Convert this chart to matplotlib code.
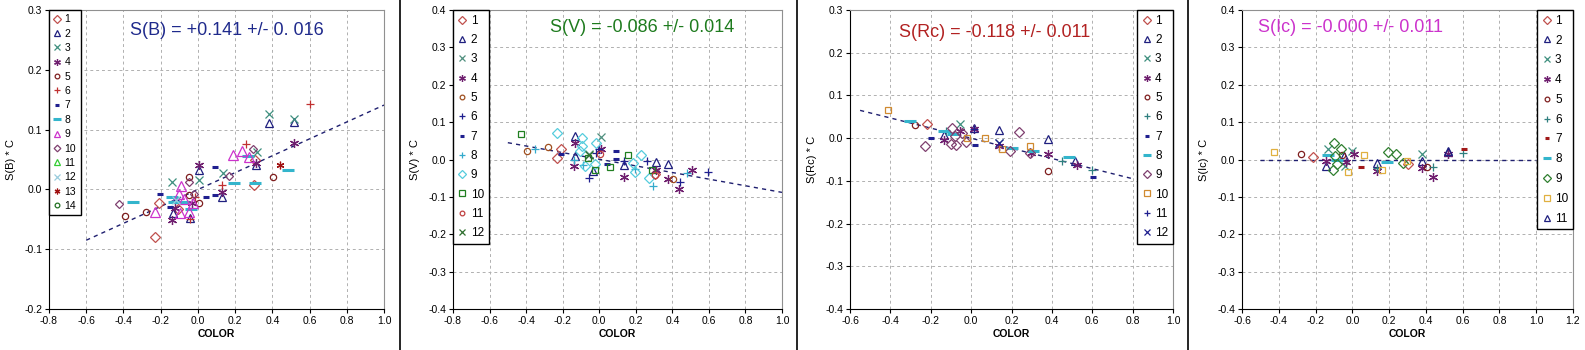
import matplotlib
matplotlib.use("Agg")
import matplotlib.pyplot as plt
from matplotlib.lines import Line2D

plt.rcParams['font.family'] = ['Liberation Sans', 'DejaVu Sans']

# ---- panel 1: S(B) ----
B_X = [
    [-0.21, -0.23, 0.305, 0.30, -0.107],
    [0.382, 0.515, 0.007, 0.13, -0.04, -0.134, 0.314],
    [0.382, 0.515, -0.139, 0.007, 0.135, 0.318],
    [0.518, 0.314, 0.007, 0.13, -0.139, -0.125, -0.032],
    [-0.393, -0.277, -0.05, -0.05, 0.007, 0.404],
    [0.60, 0.257, 0.13, -0.044, -0.018],
    [-0.205, 0.094, 0.045, 0.09, -0.15, -0.12],
    [-0.35, 0.194, 0.305, 0.484, -0.137, -0.08, -0.035, 0.27, -0.128],
    [-0.23, -0.092, -0.103, -0.076, -0.098, -0.05, -0.025, 0.189, 0.235, 0.273],
    [-0.424, -0.05, 0.167, 0.295, -0.02],
    [],
    [-0.12],
    [0.443],
    [],
]
B_Y = [
    [-0.023, -0.08, 0.049, 0.007, -0.032],
    [0.111, 0.113, 0.032, -0.012, -0.047, -0.04, 0.04],
    [0.126, 0.118, 0.013, 0.015, 0.028, 0.063],
    [0.077, 0.044, 0.041, -0.005, -0.051, -0.031, -0.023],
    [-0.045, -0.037, 0.021, -0.01, -0.022, 0.021],
    [0.142, 0.076, 0.007, -0.049, -0.012],
    [-0.007, 0.037, -0.012, -0.01, -0.03, -0.018],
    [-0.021, 0.011, 0.011, 0.032, -0.012, -0.021, -0.033, 0.056, -0.021],
    [-0.038, 0.006, -0.007, -0.016, -0.04, -0.037, -0.023, 0.057, 0.065, 0.054],
    [-0.024, 0.013, 0.022, 0.067, -0.007],
    [],
    [-0.018],
    [0.04],
    [],
]
B_FIT_X = [-0.6, 1.0]
B_FIT_Y = [-0.085, 0.141]

# ---- panel 2: S(V) ----
V_X = [
    [-0.231, -0.209, 0.304],
    [-0.135, -0.036, 0.133, 0.309, 0.378, -0.131],
    [0.009, -0.055],
    [-0.135, -0.14, 0.133, 0.378, 0.436, 0.509, 0.009, 0.309],
    [-0.395, -0.278, 0.404],
    [-0.055, 0.0, 0.133, 0.26, 0.442, 0.596, -0.018],
    [-0.209, 0.091, 0.045, 0.091],
    [-0.351, -0.087, -0.136, 0.195, 0.296, 0.482],
    [-0.231, -0.096, -0.095, -0.104, -0.078, -0.022, 0.231, 0.195, 0.273, 0.185, -0.018],
    [-0.427, -0.06, -0.022, 0.058, 0.16, 0.291],
    [0.004, 0.304],
    [-0.055],
]
V_Y = [
    [0.004, 0.028, -0.04],
    [0.062, -0.031, -0.015, -0.007, -0.011, 0.009],
    [0.061, 0.016],
    [0.043, -0.018, -0.046, -0.052, -0.08, -0.028, 0.027, -0.027],
    [0.022, 0.033, -0.051],
    [-0.049, 0.027, -0.004, -0.004, -0.06, -0.033, 0.018],
    [0.016, 0.022, -0.011, 0.002],
    [0.027, -0.014, -0.002, -0.025, -0.071, -0.036],
    [0.071, 0.058, 0.036, 0.022, -0.018, -0.013, 0.012, -0.034, -0.049, -0.009, 0.045],
    [0.067, 0.003, -0.027, -0.02, 0.012, -0.027],
    [0.016, -0.042],
    [0.013],
]
V_FIT_X = [-0.5, 1.0]
V_FIT_Y = [0.045, -0.088]

# ---- panel 3: S(Rc) ----
R_X = [
    [-0.218],
    [0.139, 0.382, 0.517, -0.134, 0.015],
    [-0.055, 0.139],
    [-0.134, -0.055, 0.015, 0.139, 0.379, 0.522, 0.299],
    [-0.276, 0.383],
    [0.448, 0.6, -0.122],
    [-0.197, 0.018, 0.605],
    [-0.304, -0.134, -0.089, 0.2, 0.307, 0.486],
    [-0.23, -0.093, -0.081, -0.098, -0.073, -0.043, -0.026, 0.238, 0.192, 0.294],
    [-0.412, -0.018, 0.068, 0.155, 0.294],
    [0.015],
    [0.139],
]
R_Y = [
    [0.033],
    [0.019, -0.002, -0.054, 0.008, 0.023],
    [0.033, -0.012],
    [-0.004, 0.017, 0.021, -0.019, -0.037, -0.064, -0.035],
    [0.03, -0.076],
    [-0.053, -0.074, 0.016],
    [0.0, -0.017, -0.09],
    [0.041, 0.017, 0.009, -0.023, -0.029, -0.043],
    [-0.018, 0.023, 0.004, -0.013, -0.016, 0.012, -0.008, 0.014, -0.029, -0.035],
    [0.066, 0.001, 0.0, -0.025, -0.018],
    [0.021],
    [-0.012],
]
R_FIT_X = [-0.55, 0.8]
R_FIT_Y = [0.065, -0.095]

# ---- panel 4: S(Ic) ----
I_X = [
    [-0.215, 0.304],
    [-0.143, -0.043, 0.132, 0.38, 0.518],
    [-0.134, 0.0, 0.38, -0.04],
    [-0.143, 0.007, 0.132, 0.38, 0.44, 0.518, -0.034],
    [-0.279, -0.058, 0.404],
    [0.44, 0.603, 0.132],
    [0.045, 0.608],
    [-0.13, -0.085, 0.188],
    [-0.098, -0.061, -0.094, -0.081, -0.103, 0.195, 0.235, 0.273],
    [-0.427, -0.025, 0.063, 0.159, 0.295],
    [0.518],
]
I_Y = [
    [0.006, -0.012],
    [-0.018, 0.009, -0.009, -0.004, 0.02],
    [0.029, 0.022, 0.015, -0.018],
    [-0.004, 0.016, -0.031, -0.022, -0.047, 0.016, -0.006],
    [0.016, 0.013, -0.02],
    [-0.02, 0.018, -0.022],
    [-0.02, 0.027],
    [0.012, -0.002, -0.006],
    [0.044, 0.028, 0.009, -0.011, -0.027, 0.02, 0.015, -0.009],
    [0.02, -0.034, 0.012, -0.029, -0.003],
    [0.022],
]
I_FIT_X = [-0.5, 1.0]
I_FIT_Y = [0.0, 0.0]

AST = (6, 2, 0)
OPEN = {'D', '^', 'o', 's'}

# (marker, color, size)
B_STYLE = [('D', '#C0504D', 5.5), ('^', '#1F1F7F', 5.5), ('x', '#3F8F7F', 5.5), (AST, '#6F1F6F', 6.5),
           ('o', '#7F1F1F', 4.5), ('+', '#C03030', 5.5), ('_', '#1F1F8F', 4), ('_', '#33B5CC', 8),
           ('^', '#CC33CC', 6.5), ('D', '#7F3F6F', 4.5), ('^', '#33CC33', 5.5), ('x', '#99CCDD', 5.5),
           (AST, '#A01010', 5.5), ('o', '#207020', 4.5)]
V_STYLE = [('D', '#C0504D', 5.5), ('^', '#1F1F7F', 5.5), ('x', '#4F8F7F', 5.5), (AST, '#6F1F6F', 6.5),
           ('o', '#9F4F1F', 4.5), ('+', '#1F1F8F', 5.5), ('_', '#1F1F8F', 4), ('+', '#33AACC', 5.5),
           ('D', '#55CCDD', 5), ('s', '#207F20', 5), ('o', '#C04040', 4.5), ('x', '#2F6F2F', 5.5)]
R_STYLE = [('D', '#C0504D', 5.5), ('^', '#1F1F7F', 5.5), ('x', '#3F8F7F', 5.5), (AST, '#6F1F6F', 6.5),
           ('o', '#7F1F1F', 4.5), ('+', '#2F7F7F', 5.5), ('_', '#1F1F8F', 4), ('_', '#33B5CC', 8),
           ('D', '#7F3F6F', 5), ('s', '#D08A30', 5), ('+', '#1F1F8F', 5.5), ('x', '#1F1F8F', 5.5)]
I_STYLE = [('D', '#C0504D', 5.5), ('^', '#1F1F7F', 5.5), ('x', '#3F8F7F', 5.5), (AST, '#6F1F6F', 6.5),
           ('o', '#7F1F1F', 4.5), ('+', '#2F7F7F', 5.5), ('_', '#A01818', 4), ('_', '#33B5CC', 8),
           ('D', '#2F7F2F', 5), ('s', '#E0B040', 5), ('^', '#1F1F7F', 5.5)]


def draw_panel(ax, xs, ys, styles, fit_x, fit_y, xlim, ylim, step_x, ylabel,
               title, title_color, title_x, title_y, legend_loc, legend_fs, legend_spacing):
    for i, (x, y, (mk, col, ms)) in enumerate(zip(xs, ys, styles)):
        mew = 2.2 if mk == '_' else 0.9
        ax.plot(x, y, ls='none', marker=mk, ms=ms, mew=mew, color=col,
                mfc='none' if mk in OPEN else col, label=str(i + 1), zorder=3)
    ax.plot(fit_x, fit_y, color='#1F1F6F', lw=1.0, ls=(0, (3, 3)), zorder=2)

    ax.set_xlim(*xlim)
    ax.set_ylim(*ylim)
    nx = int(round((xlim[1] - xlim[0]) / step_x))
    ax.set_xticks([xlim[0] + k * step_x for k in range(nx + 1)])
    ny = int(round((ylim[1] - ylim[0]) / 0.1))
    ax.set_yticks([ylim[0] + k * 0.1 for k in range(ny + 1)])
    ax.xaxis.set_major_formatter(plt.FormatStrFormatter('%.1f'))
    ax.yaxis.set_major_formatter(plt.FormatStrFormatter('%.1f'))
    ax.tick_params(labelsize=7.5, length=3, width=0.8, direction='out', pad=2)
    ax.grid(True, color='#B0B0B0', ls=(0, (3, 3)), lw=0.7)
    ax.set_axisbelow(True)
    for side in ('top', 'right'):
        ax.spines[side].set_color('#909090')
    for side in ('left', 'bottom'):
        ax.spines[side].set_color('black')
    ax.set_xlabel('COLOR', fontsize=7.5, fontweight='bold', labelpad=2)
    ax.set_ylabel(ylabel, fontsize=8, labelpad=6)
    ax.text(title_x, title_y, title, transform=ax.transAxes, color=title_color,
            fontsize=13, ha='center', va='center')

    leg = ax.legend(loc=legend_loc, bbox_to_anchor=(0, 1) if 'left' in legend_loc else (1, 1),
                    borderaxespad=0, fontsize=legend_fs, labelspacing=legend_spacing,
                    handlelength=0.8, handletextpad=0.3, borderpad=0.4, markerscale=0.75,
                    fancybox=False, framealpha=1, edgecolor='black')
    leg.get_frame().set_linewidth(1.0)


fig = plt.figure(figsize=(15.85, 3.5), dpi=100)
W, H = 1585.0, 350.0
boxes = [(49, 384), (453, 782), (850, 1173), (1242, 1573)]
axes = [fig.add_axes([l / W, (H - 309) / H, (r - l) / W, 299 / H]) for l, r in boxes]

draw_panel(axes[0], B_X, B_Y, B_STYLE, B_FIT_X, B_FIT_Y, (-0.8, 1.0), (-0.2, 0.3), 0.2,
           'S(B) * C', 'S(B) = +0.141 +/- 0. 016', '#1F2A8C', 0.53, 0.933,
           'upper left', 7.5, 0.42)
draw_panel(axes[1], V_X, V_Y, V_STYLE, V_FIT_X, V_FIT_Y, (-0.8, 1.0), (-0.4, 0.4), 0.2,
           'S(V) * C', 'S(V) = -0.086 +/- 0.014', '#1E7B1E', 0.574, 0.94,
           'upper left', 8.5, 0.62)
draw_panel(axes[2], R_X, R_Y, R_STYLE, R_FIT_X, R_FIT_Y, (-0.6, 1.0), (-0.4, 0.3), 0.2,
           'S(Rc) * C', 'S(Rc) = -0.118 +/- 0.011', '#B22222', 0.449, 0.926,
           'upper right', 8.5, 0.62)
draw_panel(axes[3], I_X, I_Y, I_STYLE, I_FIT_X, I_FIT_Y, (-0.6, 1.2), (-0.4, 0.4), 0.2,
           'S(Ic) * C', 'S(Ic) = -0.000 +/- 0.011', '#CC33CC', 0.327, 0.943,
           'upper right', 8.5, 0.66)

for sx in (400, 797, 1188):
    fig.add_artist(Line2D([sx / W, sx / W], [0, 1], transform=fig.transFigure, color='black', lw=1.2))

fig.savefig('out.png', dpi=100)
